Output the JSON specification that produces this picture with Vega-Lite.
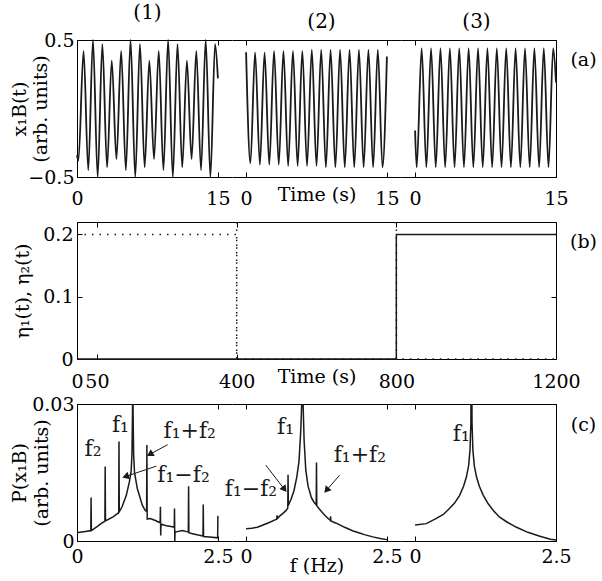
{
  "$schema": "https://vega.github.io/schema/vega-lite/v6.json",
  "padding": {"left": 10, "top": 3, "right": 5, "bottom": 3},
  "config": {
    "font": "DejaVu Serif",
    "view": {"stroke": null},
    "axis": {"domainColor": "#000", "domainWidth": 1, "tickColor": "#000", "tickSize": -5, "tickWidth": 1, "labelColor": "#000", "labelFont": "DejaVu Serif", "labelFontSize": 19, "titleFont": "DejaVu Serif", "titleFontSize": 19, "titleFontWeight": "normal", "titleColor": "#000", "grid": false, "labelFlush": false, "labelOverlap": false, "labelBound": false, "labelPadding": 10},
    "title": {"font": "DejaVu Serif", "fontSize": 20, "fontWeight": "normal", "color": "#000", "offset": 8},
    "text": {"font": "DejaVu Serif"}
  },
  "datasets": {
    "ts1": [
      {"t": 0, "x": -0.34}, {"t": 0.15, "x": -0.38}, {"t": 0.7, "x": 0.42}, {"t": 1.2, "x": -0.45}, {"t": 1.7, "x": 0.5}, {"t": 2.2, "x": -0.5}, {"t": 2.7, "x": 0.47}, {"t": 3.2, "x": -0.43}, {"t": 3.7, "x": 0.35}, {"t": 4.2, "x": -0.37},
      {"t": 4.7, "x": 0.42}, {"t": 5.2, "x": -0.45}, {"t": 5.7, "x": 0.5}, {"t": 6.2, "x": -0.5}, {"t": 6.7, "x": 0.47}, {"t": 7.2, "x": -0.43}, {"t": 7.7, "x": 0.35}, {"t": 8.2, "x": -0.37},
      {"t": 8.7, "x": 0.42}, {"t": 9.2, "x": -0.45}, {"t": 9.7, "x": 0.5}, {"t": 10.2, "x": -0.5}, {"t": 10.7, "x": 0.47}, {"t": 11.2, "x": -0.43}, {"t": 11.7, "x": 0.35}, {"t": 12.2, "x": -0.37},
      {"t": 12.7, "x": 0.42}, {"t": 13.2, "x": -0.45}, {"t": 13.7, "x": 0.5}, {"t": 14.2, "x": -0.5}, {"t": 14.7, "x": 0.47}, {"t": 15, "x": 0.22}
    ],
    "ts2": [
      {"t": 0, "x": 0.41}, {"t": 0.46, "x": -0.4}, {"t": 0.96, "x": 0.41}, {"t": 1.47, "x": -0.41}, {"t": 1.97, "x": 0.41}, {"t": 2.47, "x": -0.41}, {"t": 2.98, "x": 0.42}, {"t": 3.48, "x": -0.41},
      {"t": 3.98, "x": 0.42}, {"t": 4.48, "x": -0.42}, {"t": 4.99, "x": 0.42}, {"t": 5.49, "x": -0.42}, {"t": 5.99, "x": 0.42}, {"t": 6.49, "x": -0.42}, {"t": 7.0, "x": 0.43}, {"t": 7.5, "x": -0.42},
      {"t": 8.0, "x": 0.43}, {"t": 8.5, "x": -0.43}, {"t": 9.0, "x": 0.43}, {"t": 9.51, "x": -0.43}, {"t": 10.01, "x": 0.43}, {"t": 10.51, "x": -0.43}, {"t": 11.02, "x": 0.43}, {"t": 11.52, "x": -0.43},
      {"t": 12.02, "x": 0.43}, {"t": 12.52, "x": -0.43}, {"t": 13.03, "x": 0.43}, {"t": 13.53, "x": -0.43}, {"t": 14.03, "x": 0.43}, {"t": 14.53, "x": -0.43}, {"t": 15, "x": 0.38}
    ],
    "ts3": [
      {"t": 0, "x": -0.16}, {"t": 0.17, "x": -0.43}, {"t": 0.7, "x": 0.44}, {"t": 1.2, "x": -0.43}, {"t": 1.7, "x": 0.44}, {"t": 2.2, "x": -0.43}, {"t": 2.7, "x": 0.44}, {"t": 3.2, "x": -0.43},
      {"t": 3.7, "x": 0.44}, {"t": 4.2, "x": -0.43}, {"t": 4.7, "x": 0.44}, {"t": 5.2, "x": -0.43}, {"t": 5.7, "x": 0.44}, {"t": 6.2, "x": -0.43}, {"t": 6.7, "x": 0.44}, {"t": 7.2, "x": -0.43},
      {"t": 7.7, "x": 0.44}, {"t": 8.2, "x": -0.43}, {"t": 8.7, "x": 0.44}, {"t": 9.2, "x": -0.43}, {"t": 9.7, "x": 0.44}, {"t": 10.2, "x": -0.43}, {"t": 10.7, "x": 0.44}, {"t": 11.2, "x": -0.43},
      {"t": 11.7, "x": 0.44}, {"t": 12.2, "x": -0.43}, {"t": 12.7, "x": 0.44}, {"t": 13.2, "x": -0.43}, {"t": 13.7, "x": 0.44}, {"t": 14.2, "x": -0.43}, {"t": 14.7, "x": 0.44}, {"t": 15, "x": 0.19}
    ],
    "eta": [
      {"t": 0, "v": 0.2, "series": "eta1"}, {"t": 400, "v": 0, "series": "eta1"}, {"t": 1200, "v": 0, "series": "eta1"},
      {"t": 0, "v": 0, "series": "eta2"}, {"t": 800, "v": 0.2, "series": "eta2"}, {"t": 1200, "v": 0.2, "series": "eta2"}
    ],
    "regimes": [{"t": 400}, {"t": 800}],
    "sp1": [
      {"f": 0, "p": 0.0018}, {"f": 0.05, "p": 0.0019}, {"f": 0.15, "p": 0.0021}, {"f": 0.245, "p": 0.0023}, {"f": 0.25, "p": 0.0095}, {"f": 0.255, "p": 0.0023},
      {"f": 0.35, "p": 0.0031}, {"f": 0.45, "p": 0.004}, {"f": 0.495, "p": 0.0043}, {"f": 0.5, "p": 0.0163}, {"f": 0.505, "p": 0.0045}, {"f": 0.52, "p": 0.0045},
      {"f": 0.64, "p": 0.0053}, {"f": 0.74, "p": 0.0062}, {"f": 0.745, "p": 0.0218}, {"f": 0.75, "p": 0.0064}, {"f": 0.8, "p": 0.0075}, {"f": 0.875, "p": 0.01},
      {"f": 0.93, "p": 0.013}, {"f": 0.96, "p": 0.0152}, {"f": 0.975, "p": 0.019}, {"f": 0.985, "p": 0.028}, {"f": 0.99, "p": 0.05}, {"f": 0.995, "p": 0.028},
      {"f": 1.005, "p": 0.019}, {"f": 1.02, "p": 0.015}, {"f": 1.07, "p": 0.0115}, {"f": 1.16, "p": 0.0078}, {"f": 1.21, "p": 0.0067}, {"f": 1.235, "p": 0.0065},
      {"f": 1.24, "p": 0.021}, {"f": 1.245, "p": 0.0048}, {"f": 1.3, "p": 0.0049}, {"f": 1.39, "p": 0.0045}, {"f": 1.475, "p": 0.004}, {"f": 1.48, "p": 0.0075},
      {"f": 1.485, "p": 0.0012}, {"f": 1.49, "p": 0.0037}, {"f": 1.57, "p": 0.0034}, {"f": 1.69, "p": 0.0031}, {"f": 1.725, "p": 0.003}, {"f": 1.73, "p": 0.0071},
      {"f": 1.735, "p": 0}, {"f": 1.74, "p": 0.002}, {"f": 1.76, "p": 0.002}, {"f": 1.87, "p": 0.0023}, {"f": 1.96, "p": 0.002}, {"f": 1.975, "p": 0.002},
      {"f": 1.98, "p": 0.012}, {"f": 1.985, "p": 0.0018}, {"f": 2.05, "p": 0.0016}, {"f": 2.15, "p": 0.0013}, {"f": 2.235, "p": 0.0011}, {"f": 2.24, "p": 0.008},
      {"f": 2.245, "p": 0.001}, {"f": 2.35, "p": 0.0009}, {"f": 2.495, "p": 0.0007}, {"f": 2.5, "p": 0.0055}
    ],
    "sp2": [
      {"f": 0, "p": 0.0027}, {"f": 0.1, "p": 0.0028}, {"f": 0.2, "p": 0.003}, {"f": 0.3, "p": 0.0035}, {"f": 0.4, "p": 0.004}, {"f": 0.545, "p": 0.0048},
      {"f": 0.55, "p": 0.0056}, {"f": 0.555, "p": 0.0049}, {"f": 0.6, "p": 0.0055}, {"f": 0.65, "p": 0.006}, {"f": 0.71, "p": 0.0067}, {"f": 0.74, "p": 0.0072},
      {"f": 0.745, "p": 0.0145}, {"f": 0.75, "p": 0.0078}, {"f": 0.8, "p": 0.0092}, {"f": 0.85, "p": 0.011}, {"f": 0.9, "p": 0.014}, {"f": 0.94, "p": 0.0175},
      {"f": 0.97, "p": 0.024}, {"f": 0.99, "p": 0.031}, {"f": 1.0, "p": 0.05}, {"f": 1.01, "p": 0.031}, {"f": 1.03, "p": 0.022}, {"f": 1.06, "p": 0.0155},
      {"f": 1.1, "p": 0.012}, {"f": 1.16, "p": 0.0095}, {"f": 1.2, "p": 0.0086}, {"f": 1.245, "p": 0.0079}, {"f": 1.25, "p": 0.0172}, {"f": 1.255, "p": 0.0077},
      {"f": 1.3, "p": 0.007}, {"f": 1.4, "p": 0.0056}, {"f": 1.495, "p": 0.0045}, {"f": 1.5, "p": 0.0054}, {"f": 1.505, "p": 0.0044}, {"f": 1.6, "p": 0.0039},
      {"f": 1.75, "p": 0.003}, {"f": 1.9, "p": 0.0022}, {"f": 2.0, "p": 0.0018}, {"f": 2.1, "p": 0.0014}, {"f": 2.25, "p": 0.0009}, {"f": 2.4, "p": 0.0005}, {"f": 2.5, "p": 0.0003}
    ],
    "sp3": [
      {"f": 0, "p": 0.0035}, {"f": 0.2, "p": 0.0038}, {"f": 0.37, "p": 0.0049}, {"f": 0.5, "p": 0.0058}, {"f": 0.61, "p": 0.0071}, {"f": 0.7, "p": 0.0083},
      {"f": 0.79, "p": 0.01}, {"f": 0.86, "p": 0.012}, {"f": 0.91, "p": 0.014}, {"f": 0.95, "p": 0.0165}, {"f": 0.975, "p": 0.02}, {"f": 0.99, "p": 0.026},
      {"f": 1.0, "p": 0.05}, {"f": 1.01, "p": 0.026}, {"f": 1.025, "p": 0.02}, {"f": 1.05, "p": 0.0165}, {"f": 1.09, "p": 0.014}, {"f": 1.14, "p": 0.012},
      {"f": 1.21, "p": 0.01}, {"f": 1.3, "p": 0.0081}, {"f": 1.4, "p": 0.0065}, {"f": 1.5, "p": 0.0052}, {"f": 1.65, "p": 0.004}, {"f": 1.8, "p": 0.003},
      {"f": 2.0, "p": 0.0019}, {"f": 2.2, "p": 0.0011}, {"f": 2.4, "p": 0.0004}, {"f": 2.5, "p": 0.0002}
    ],
    "lab1": [
      {"f": 0.284, "p": 0.0202, "label": "f₂"}, {"f": 0.77, "p": 0.0253, "label": "f₁"},
      {"f": 2.0, "p": 0.024, "label": "f₁+f₂"}, {"f": 1.89, "p": 0.0145, "label": "f₁−f₂"}
    ],
    "lab2": [
      {"f": 0.7, "p": 0.0249, "label": "f₁"}, {"f": 0.087, "p": 0.0114, "label": "f₁−f₂"}, {"f": 2.02, "p": 0.0188, "label": "f₁+f₂"}
    ],
    "lab3": [{"f": 0.82, "p": 0.0235, "label": "f₁"}],
    "arr1": [
      {"f": 1.61, "p": 0.0211, "f2": 1.31, "p2": 0.0191, "angle": 240},
      {"f": 1.41, "p": 0.0164, "f2": 0.88, "p2": 0.0142, "angle": 252}
    ],
    "arr2": [
      {"f": 0.35, "p": 0.0166, "f2": 0.67, "p2": 0.0115, "angle": 142},
      {"f": 1.66, "p": 0.0144, "f2": 1.44, "p2": 0.0113, "angle": 220}
    ]
  },
  "spacing": 4,
  "vconcat": [
    {
      "hconcat": [
        {
          "width": 155, "height": 137,
          "title": {"text": "(1)", "dx": -7},
          "layer": [
            {"data": {"name": "ts1"}, "mark": {"type": "line", "interpolate": "monotone", "color": "#1a1a1a", "strokeWidth": 1.8},
             "encoding": {
               "x": {"field": "t", "type": "quantitative", "scale": {"domain": [0, 16.5], "nice": false, "zero": false}, "axis": {"orient": "bottom", "values": [0, 15], "format": "d", "labelPadding": 17, "title": null}},
               "y": {"field": "x", "type": "quantitative", "scale": {"domain": [-0.5, 0.5], "nice": false}, "axis": {"orient": "left", "values": [-0.5, 0.5], "format": ".1f", "labelPadding": 8, "title": ["x₁B(t)", "(arb. units)"], "titleX": -58, "titleY": 68.5, "titleAngle": 270, "titleAlign": "center", "titleBaseline": "middle", "titleLineHeight": 21}}
             }},
            {"data": {"name": "ts1"}, "mark": {"type": "rule", "strokeOpacity": 0},
             "encoding": {"x": {"field": "t", "type": "quantitative", "axis": {"orient": "top", "values": [0, 15], "labels": false, "title": null}},
                          "y": {"datum": 0.5, "type": "quantitative", "axis": null}, "y2": {"datum": -0.79}}}
          ],
          "resolve": {"axis": {"x": "independent", "y": "independent"}}
        },
        {
          "width": 169, "height": 137,
          "title": {"text": "(2)", "dx": 5},
          "layer": [
            {"data": {"name": "ts2"}, "mark": {"type": "line", "interpolate": "monotone", "color": "#1a1a1a", "strokeWidth": 1.8},
             "encoding": {
               "x": {"field": "t", "type": "quantitative", "scale": {"domain": [-1.5, 16.5], "nice": false, "zero": false}, "axis": {"orient": "bottom", "values": [0, 15], "format": "d", "labelPadding": 17, "title": "Time (s)", "titleY": 17, "titleBaseline": "middle"}},
               "y": {"field": "x", "type": "quantitative", "scale": {"domain": [-0.5, 0.5], "nice": false}, "axis": null}
             }},
            {"data": {"name": "ts2"}, "mark": {"type": "rule", "strokeOpacity": 0},
             "encoding": {"x": {"field": "t", "type": "quantitative", "axis": {"orient": "top", "values": [0, 15], "labels": false, "title": null}}}}
          ],
          "resolve": {"axis": {"x": "independent"}}
        },
        {
          "width": 155, "height": 137,
          "title": {"text": "(3)", "dx": -2},
          "layer": [
            {"data": {"name": "ts3"}, "mark": {"type": "line", "interpolate": "monotone", "color": "#1a1a1a", "strokeWidth": 1.8},
             "encoding": {
               "x": {"field": "t", "type": "quantitative", "scale": {"domain": [-1.5, 15], "nice": false, "zero": false}, "axis": {"orient": "bottom", "values": [0, 15], "format": "d", "labelPadding": 17, "title": null}},
               "y": {"field": "x", "type": "quantitative", "scale": {"domain": [-0.5, 0.5], "nice": false}, "axis": {"orient": "right", "values": [-0.5, 0.5], "labels": false, "title": "(a)", "titleAngle": 0, "titleX": 27, "titleY": 19, "titleAlign": "center", "titleBaseline": "middle"}}
             }},
            {"data": {"name": "ts3"}, "mark": {"type": "rule", "strokeOpacity": 0},
             "encoding": {"x": {"field": "t", "type": "quantitative", "axis": {"orient": "top", "values": [0, 15], "labels": false, "title": null}}}}
          ],
          "resolve": {"axis": {"x": "independent"}}
        }
      ],
      "spacing": 0,
      "bounds": "flush"
    },
    {
      "width": 479, "height": 137,
      "layer": [
        {"data": {"name": "eta"}, "mark": {"type": "line", "interpolate": "step-after", "color": "#1a1a1a", "strokeWidth": 1.5},
         "encoding": {
           "x": {"field": "t", "type": "quantitative", "scale": {"domain": [0, 1200], "nice": false, "zero": false}, "axis": {"orient": "bottom", "values": [0, 50, 400, 800, 1200], "format": "d", "labelPadding": 18, "title": "Time (s)", "titleY": 17, "titleBaseline": "middle"}},
           "y": {"field": "v", "type": "quantitative", "scale": {"domain": [0, 0.22], "nice": false}, "axis": {"orient": "left", "values": [0, 0.1, 0.2], "labelExpr": "datum.value == 0 ? '0' : format(datum.value, '.1f')", "labelPadding": 9, "title": "η₁(t), η₂(t)", "titleX": -55, "titleY": 68.5, "titleAngle": 270, "titleAlign": "center", "titleBaseline": "middle"}},
           "strokeDash": {"field": "series", "type": "nominal", "scale": {"domain": ["eta1", "eta2"], "range": [[1.5, 6], [1, 0]]}, "legend": null}
         }},
        {"data": {"name": "regimes"}, "mark": {"type": "rule", "color": "#1a1a1a", "strokeWidth": 1.5, "strokeDash": [1.5, 6]},
         "encoding": {"x": {"field": "t", "type": "quantitative", "axis": null}}},
        {"data": {"name": "regimes"}, "mark": {"type": "rule", "strokeOpacity": 0},
         "encoding": {"x": {"field": "t", "type": "quantitative", "axis": {"orient": "top", "values": [0, 50, 400, 800, 1200], "labels": false, "title": null}}}},
        {"data": {"name": "eta"}, "mark": {"type": "rule", "strokeOpacity": 0},
         "encoding": {"y": {"field": "v", "type": "quantitative", "axis": {"orient": "right", "values": [0, 0.1, 0.2], "labels": false, "title": "(b)", "titleAngle": 0, "titleX": 27, "titleY": 19, "titleAlign": "center", "titleBaseline": "middle"}}}}
      ],
      "resolve": {"axis": {"x": "independent", "y": "independent"}}
    },
    {
      "hconcat": [
        {
          "width": 155, "height": 137,
          "layer": [
            {"data": {"name": "sp1"}, "mark": {"type": "line", "clip": true, "color": "#1a1a1a", "strokeWidth": 1.5},
             "encoding": {
               "x": {"field": "f", "type": "quantitative", "scale": {"domain": [0, 2.75], "nice": false, "zero": false}, "axis": {"orient": "bottom", "values": [0, 2.5], "labelExpr": "datum.value == 0 ? '0' : '2.5'", "labelPadding": 11, "title": null}},
               "y": {"field": "p", "type": "quantitative", "scale": {"domain": [0, 0.03], "nice": false}, "axis": {"orient": "left", "values": [0, 0.03], "labelExpr": "datum.value == 0 ? '0' : '0.03'", "labelPadding": 8, "title": ["P(x₁B)", "(arb. units)"], "titleX": -58, "titleY": 68.5, "titleAngle": 270, "titleAlign": "center", "titleBaseline": "middle", "titleLineHeight": 22}}
             }},
            {"data": {"name": "sp1"}, "mark": {"type": "rule", "strokeOpacity": 0},
             "encoding": {"x": {"field": "f", "type": "quantitative", "axis": {"orient": "top", "values": [0, 2.5], "labels": false, "title": null}}}},
            {"data": {"name": "lab1"}, "mark": {"type": "text", "fontSize": 22, "color": "#1a1a1a", "baseline": "middle"},
             "encoding": {"x": {"field": "f", "type": "quantitative", "axis": null}, "y": {"field": "p", "type": "quantitative", "axis": null}, "text": {"field": "label"}}},
            {"data": {"name": "arr1"}, "mark": {"type": "rule", "color": "#1a1a1a", "strokeWidth": 1},
             "encoding": {"x": {"field": "f", "type": "quantitative", "axis": null}, "y": {"field": "p", "type": "quantitative", "axis": null}, "x2": {"field": "f2"}, "y2": {"field": "p2"}}},
            {"data": {"name": "arr1"}, "mark": {"type": "point", "shape": "triangle", "filled": true, "color": "#1a1a1a", "size": 60, "opacity": 1},
             "encoding": {"x": {"field": "f2", "type": "quantitative", "axis": null}, "y": {"field": "p2", "type": "quantitative", "axis": null}, "angle": {"field": "angle", "type": "quantitative", "scale": null}}}
          ],
          "resolve": {"axis": {"x": "independent", "y": "independent"}}
        },
        {
          "width": 169, "height": 137,
          "layer": [
            {"data": {"name": "sp2"}, "mark": {"type": "line", "clip": true, "color": "#1a1a1a", "strokeWidth": 1.5},
             "encoding": {
               "x": {"field": "f", "type": "quantitative", "scale": {"domain": [-0.25, 2.75], "nice": false, "zero": false}, "axis": {"orient": "bottom", "values": [0, 2.5], "labelExpr": "datum.value == 0 ? '0' : '2.5'", "labelPadding": 11, "title": "f (Hz)", "titleY": 24, "titleBaseline": "middle"}},
               "y": {"field": "p", "type": "quantitative", "scale": {"domain": [0, 0.03], "nice": false}, "axis": null}
             }},
            {"data": {"name": "sp2"}, "mark": {"type": "rule", "strokeOpacity": 0},
             "encoding": {"x": {"field": "f", "type": "quantitative", "axis": {"orient": "top", "values": [0, 2.5], "labels": false, "title": null}}}},
            {"data": {"name": "lab2"}, "mark": {"type": "text", "fontSize": 22, "color": "#1a1a1a", "baseline": "middle"},
             "encoding": {"x": {"field": "f", "type": "quantitative", "axis": null}, "y": {"field": "p", "type": "quantitative", "axis": null}, "text": {"field": "label"}}},
            {"data": {"name": "arr2"}, "mark": {"type": "rule", "color": "#1a1a1a", "strokeWidth": 1},
             "encoding": {"x": {"field": "f", "type": "quantitative", "axis": null}, "y": {"field": "p", "type": "quantitative", "axis": null}, "x2": {"field": "f2"}, "y2": {"field": "p2"}}},
            {"data": {"name": "arr2"}, "mark": {"type": "point", "shape": "triangle", "filled": true, "color": "#1a1a1a", "size": 60, "opacity": 1},
             "encoding": {"x": {"field": "f2", "type": "quantitative", "axis": null}, "y": {"field": "p2", "type": "quantitative", "axis": null}, "angle": {"field": "angle", "type": "quantitative", "scale": null}}}
          ],
          "resolve": {"axis": {"x": "independent", "y": "independent"}}
        },
        {
          "width": 155, "height": 137,
          "layer": [
            {"data": {"name": "sp3"}, "mark": {"type": "line", "clip": true, "color": "#1a1a1a", "strokeWidth": 1.5},
             "encoding": {
               "x": {"field": "f", "type": "quantitative", "scale": {"domain": [-0.25, 2.5], "nice": false, "zero": false}, "axis": {"orient": "bottom", "values": [0, 2.5], "labelExpr": "datum.value == 0 ? '0' : '2.5'", "labelPadding": 11, "title": null}},
               "y": {"field": "p", "type": "quantitative", "scale": {"domain": [0, 0.03], "nice": false}, "axis": {"orient": "right", "values": [0, 0.03], "labels": false, "title": "(c)", "titleAngle": 0, "titleX": 27, "titleY": 20, "titleAlign": "center", "titleBaseline": "middle"}}
             }},
            {"data": {"name": "sp3"}, "mark": {"type": "rule", "strokeOpacity": 0},
             "encoding": {"x": {"field": "f", "type": "quantitative", "axis": {"orient": "top", "values": [0, 2.5], "labels": false, "title": null}}}},
            {"data": {"name": "lab3"}, "mark": {"type": "text", "fontSize": 22, "color": "#1a1a1a", "baseline": "middle"},
             "encoding": {"x": {"field": "f", "type": "quantitative", "axis": null}, "y": {"field": "p", "type": "quantitative", "axis": null}, "text": {"field": "label"}}}
          ],
          "resolve": {"axis": {"x": "independent", "y": "independent"}}
        }
      ],
      "spacing": 0,
      "bounds": "flush"
    }
  ]
}
